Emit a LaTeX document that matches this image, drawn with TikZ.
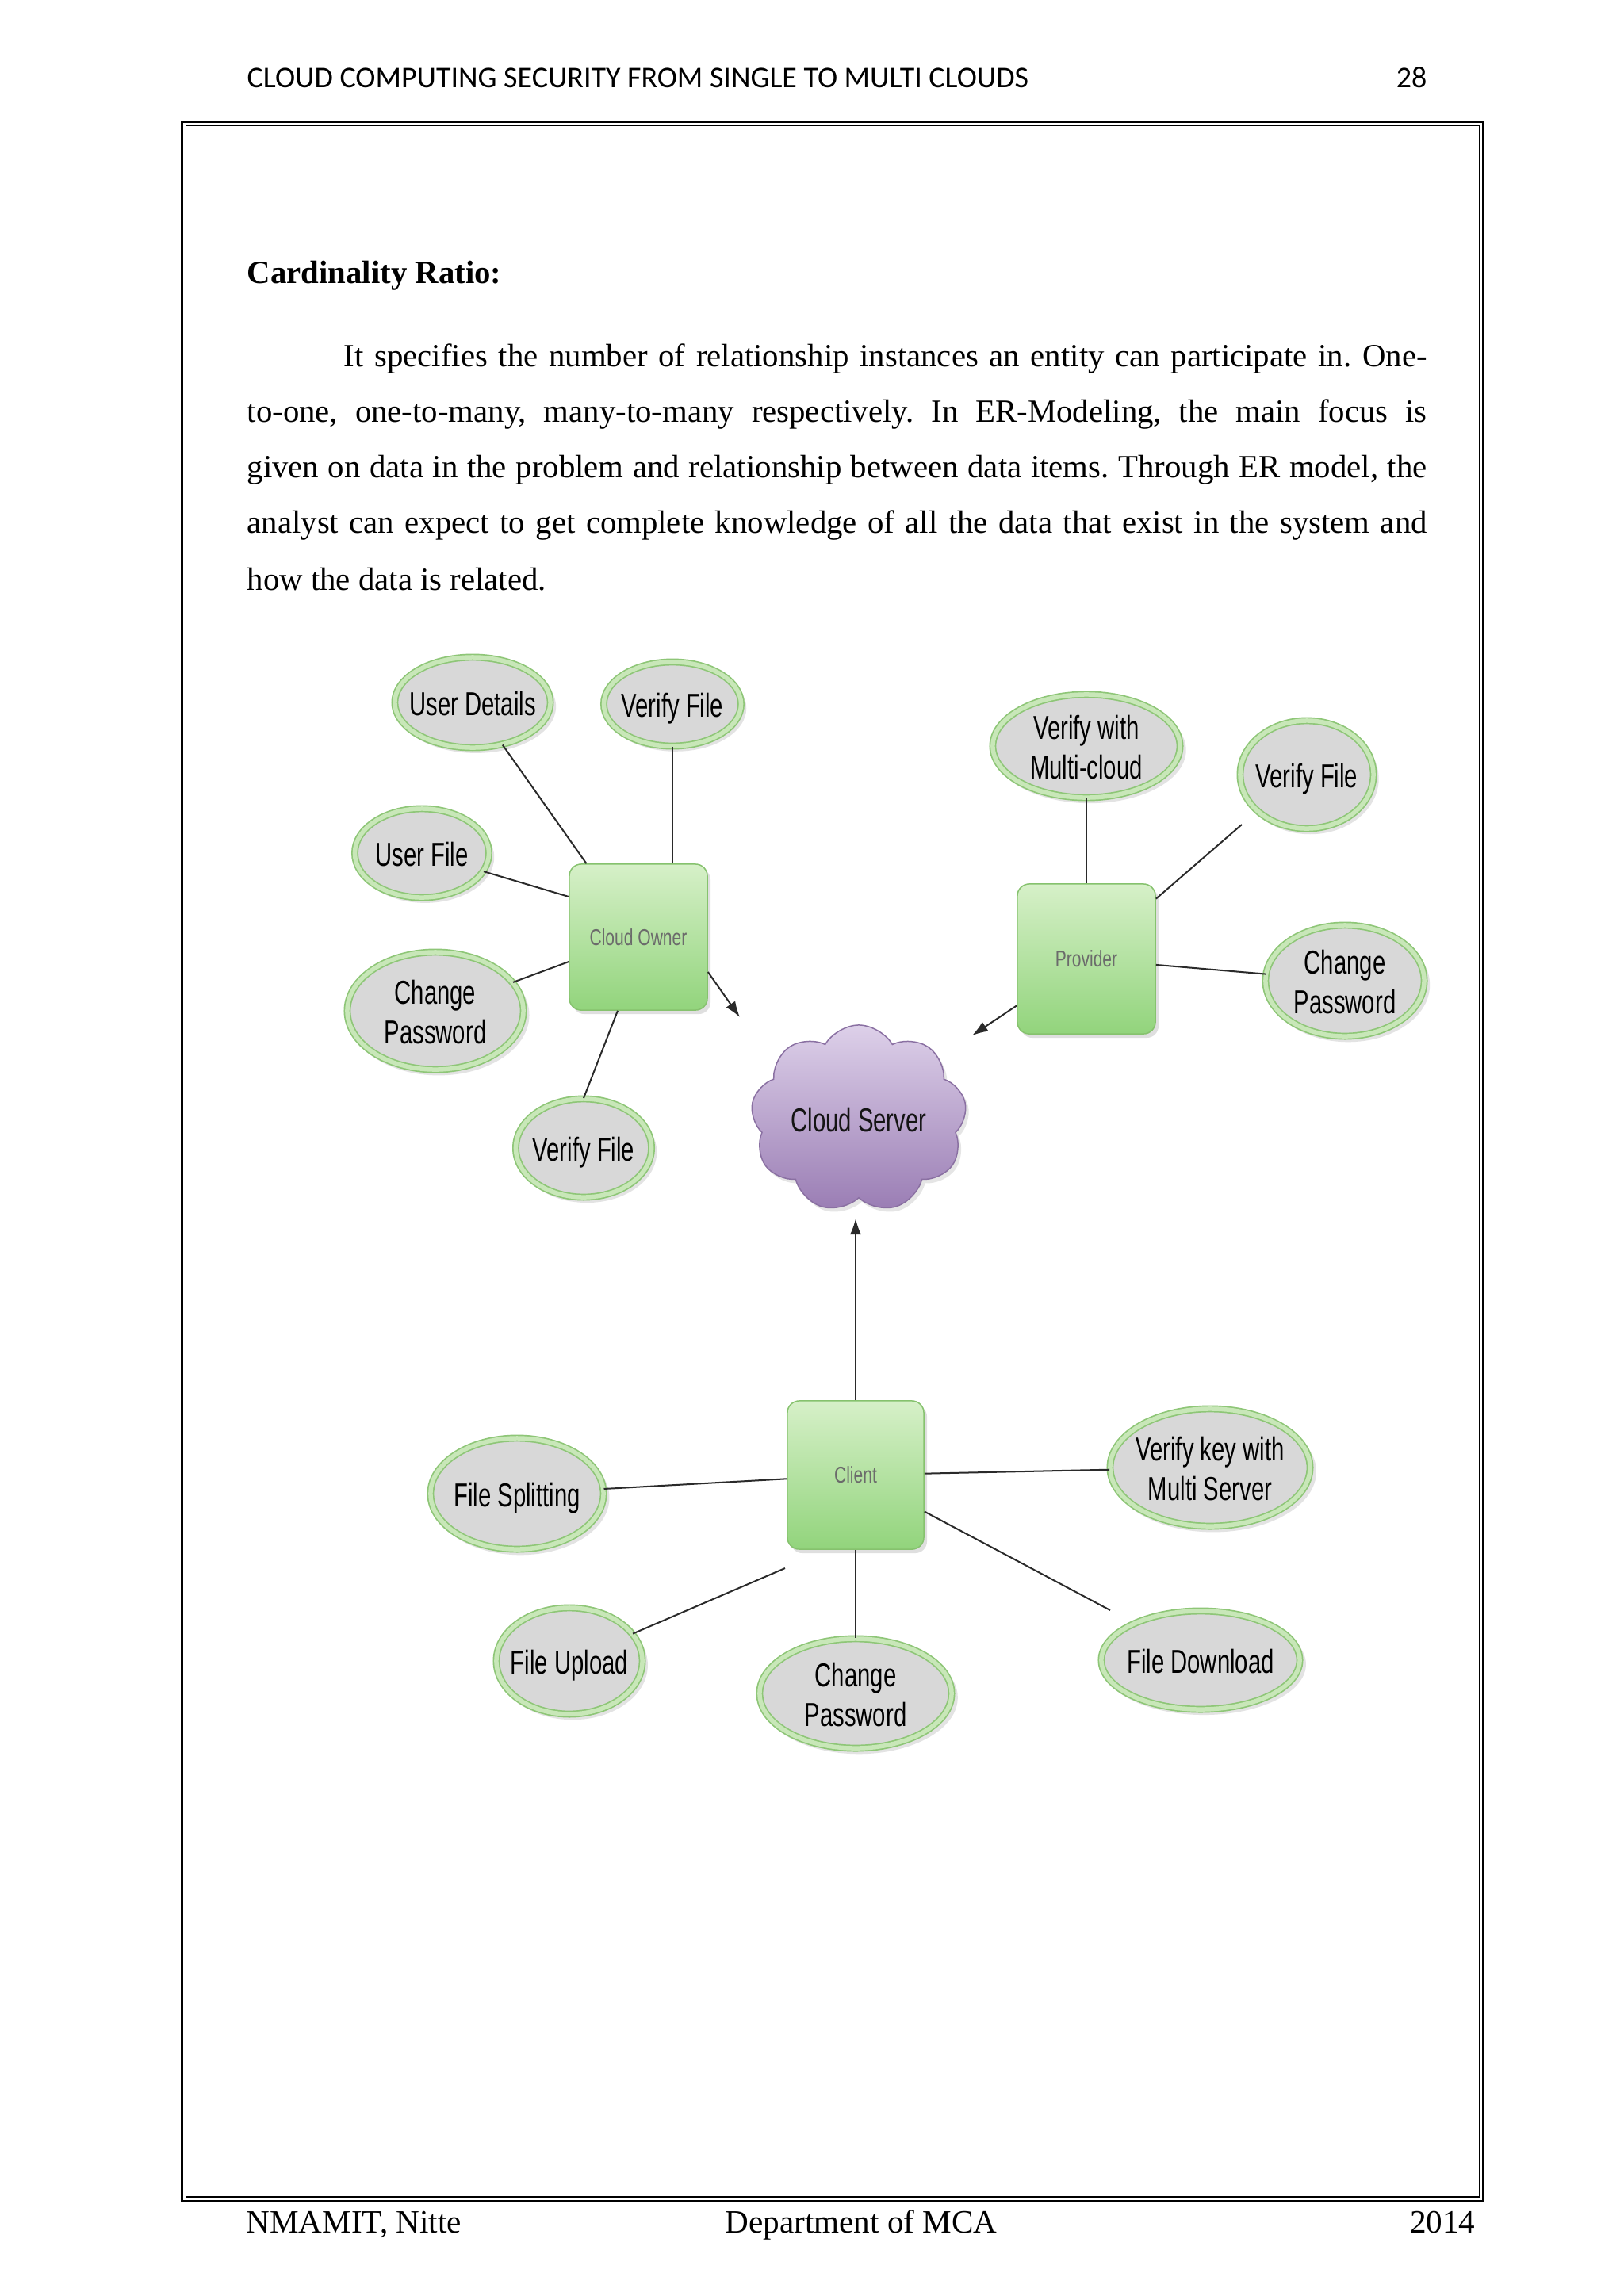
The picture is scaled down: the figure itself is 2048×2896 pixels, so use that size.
\documentclass[tikz,border=0pt]{standalone}
\usepackage{fontspec}
\setmainfont{Liberation Serif}
\newfontfamily\hdrfont{Carlito}
\newfontfamily\dgfont[FakeStretch=0.70]{Liberation Sans}
\newfontfamily\boxfont[FakeStretch=0.73]{Liberation Sans}
\usetikzlibrary{shapes.geometric,shapes.symbols,arrows.meta,shadows}
\frenchspacing
\definecolor{ringline}{HTML}{8EC677}
\definecolor{ringfill}{HTML}{C8E7B8}
\definecolor{ellfill}{HTML}{D8D8D8}
\definecolor{boxtop}{HTML}{D6F0C8}
\definecolor{boxbot}{HTML}{92D47C}
\definecolor{boxline}{HTML}{86C26E}
\definecolor{cloudtop}{HTML}{DDD0E9}
\definecolor{cloudbot}{HTML}{9A7DB4}
\definecolor{cloudline}{HTML}{8A70A2}
\definecolor{conn}{HTML}{2A2A2A}
\newcommand\elltext[1]{\makebox[0pt]{\smash{\raisebox{-0.4em}{\begin{tabular}{@{}c@{}}#1\end{tabular}}}}}
\begin{document}
\begin{tikzpicture}[x=0.01cm,y=-0.01cm,
  attr/.style={ellipse, draw=ringline, double=ringfill, double distance=0.055cm,
    line width=0.017cm, fill=ellfill, inner sep=0pt, text=black,
    font=\dgfont\fontsize{11.9}{14.2}\selectfont,
    drop shadow={opacity=0.22, shadow xshift=0.04cm, shadow yshift=-0.05cm, shadow scale=1.03}},
  entity/.style={rectangle, rounded corners=0.15cm, draw=boxline, line width=0.015cm,
    top color=boxtop, bottom color=boxbot, minimum width=1.74cm, inner sep=0pt,
    text=black!58, font=\boxfont\fontsize{8.2}{8.2}\selectfont,
    drop shadow={opacity=0.25, shadow xshift=0.04cm, shadow yshift=-0.05cm}},
  conn/.style={draw=conn, line width=0.02cm},
  arr/.style={conn, -{Latex[length=0.2cm,width=0.14cm]}},
  body/.style={anchor=base west, inner sep=0pt, font=\fontsize{11.6}{14}\selectfont}
]
\fill[white] (0,0) rectangle (2048,2896);
\useasboundingbox (0,0) rectangle (2048,2896);

% page header
\node[anchor=base west, inner sep=0pt, font=\hdrfont\fontsize{10.8}{11}\selectfont] (ht) at (311,110) {CLOUD COMPUTING SECURITY FROM SINGLE TO MULTI CLOUDS};
\node[anchor=base east, inner sep=0pt, font=\hdrfont\fontsize{10.8}{11}\selectfont] (pg) at (1800,110) {28};

% frame
\draw[line width=0.025cm] (229.5,153.5) rectangle (1870.5,2776);
\draw[line width=0.012cm] (234.5,158.5) rectangle (1865.5,2771);

% text
\node[body, font=\fontsize{11.6}{14}\selectfont\bfseries] (hd) at (311,357) {Cardinality Ratio:};
\node[body] (p1) at (433,462) {\makebox[13.65cm][s]{It specifies the number of relationship instances an entity can participate in. One-}};
\node[body] (p2) at (311,532) {\makebox[14.87cm][s]{to-one, one-to-many, many-to-many respectively. In ER-Modeling, the main focus is}};
\node[body] (p3) at (311,602) {\makebox[14.87cm][s]{given on data in the problem and relationship between data items. Through ER model, the}};
\node[body] (p4) at (311,672) {\makebox[14.87cm][s]{analyst can expect to get complete knowledge of all the data that exist in the system and}};
\node[body] (p5) at (311,744) {how the data is related.};

% entities
\node[entity, minimum height=1.84cm] (CO) at (805,1182) {Cloud Owner};
\node[entity, minimum height=1.89cm] (PR) at (1370,1209.5) {Provider};
\node[entity, minimum width=1.72cm, minimum height=1.87cm] (CL) at (1079,1860.5) {Client};

% cloud server
\node[cloud, cloud puffs=9, cloud puff arc=120, cloud ignores aspect,
  minimum width=2.72cm, minimum height=2.36cm, inner sep=0pt,
  draw=cloudline, line width=0.015cm, top color=cloudtop, bottom color=cloudbot,
  text=black!92, font=\dgfont\fontsize{11.9}{14.2}\selectfont,
  drop shadow={opacity=0.2, shadow xshift=0.04cm, shadow yshift=-0.05cm}] (CS) at (1083,1411) {\elltext{Cloud Server}};

% attributes
\node[attr, minimum width=1.96cm, minimum height=1.14cm] (UD) at (596,886) {\elltext{User Details}};
\node[attr, minimum width=1.73cm, minimum height=1.06cm] (VF1) at (848,888) {\elltext{Verify File}};
\node[attr, minimum width=1.69cm, minimum height=1.12cm] (UF) at (532,1076) {\elltext{User File}};
\node[attr, minimum width=2.22cm, minimum height=1.48cm] (CP1) at (549,1275) {\elltext{Change\\Password}};
\node[attr, minimum width=1.71cm, minimum height=1.24cm] (VF2) at (736,1448) {\elltext{Verify File}};
\node[attr, minimum width=2.36cm, minimum height=1.30cm] (VMC) at (1370,941) {\elltext{Verify with\\Multi-cloud}};
\node[attr, minimum width=1.68cm, minimum height=1.36cm] (VF3) at (1648,977) {\elltext{Verify File}};
\node[attr, minimum width=2.00cm, minimum height=1.40cm] (CP2) at (1696,1237) {\elltext{Change\\Password}};
\node[attr, minimum width=2.18cm, minimum height=1.40cm] (FS) at (652,1884) {\elltext{File Splitting}};
\node[attr, minimum width=2.52cm, minimum height=1.48cm] (VK) at (1526,1851) {\elltext{Verify key with\\Multi Server}};
\node[attr, minimum width=1.84cm, minimum height=1.34cm] (FU) at (718,2095) {\elltext{File Upload}};
\node[attr, minimum width=2.42cm, minimum height=1.38cm] (CP3) at (1079,2136) {\elltext{Change\\Password}};
\node[attr, minimum width=2.50cm, minimum height=1.24cm] (FD) at (1514,2094) {\elltext{File Download}};

% free ends
\coordinate (a1) at (933,1283);
\coordinate (a2) at (1226,1306);
\coordinate (a3) at (1079,1537);
\coordinate (v3e) at (1566,1040);
\coordinate (fue) at (990,1978);
\coordinate (fde) at (1400,2031);

% connectors: cloud owner
\draw[conn] (UD) -- (CO);
\draw[conn] (VF1) -- (VF1 |- CO.north);
\draw[conn] (UF) -- ([yshift=0.51cm]CO.west);
\draw[conn] (CP1) -- ([yshift=-0.31cm]CO.west);
\draw[conn] (VF2.north) -- ([xshift=-0.26cm]CO.south);
\draw[arr] ([yshift=-0.44cm]CO.east) -- (a1);

% provider
\draw[conn] (VMC) -- (VMC |- PR.north);
\draw[conn] (v3e) -- (PR);
\draw[conn] (PR) -- (CP2);
\draw[arr] (PR) -- (a2);

% client
\draw[arr] (CL) -- (a3);
\draw[conn] (FS) -- (CL);
\draw[conn] (CL) -- (VK);
\draw[conn] (FU) -- (fue);
\draw[conn] (CL) -- (CP3);
\draw[conn] (CL) -- (fde);

% footer
\node[anchor=base west, inner sep=0pt, font=\fontsize{11.7}{14}\selectfont] (f1) at (310,2816) {NMAMIT, Nitte};
\node[anchor=base west, inner sep=0pt, font=\fontsize{11.7}{14}\selectfont] (f2) at (914,2816) {Department of MCA};
\node[anchor=base east, inner sep=0pt, font=\fontsize{11.7}{14}\selectfont] (f3) at (1861,2816) {2014};
\end{tikzpicture}
\end{document}
